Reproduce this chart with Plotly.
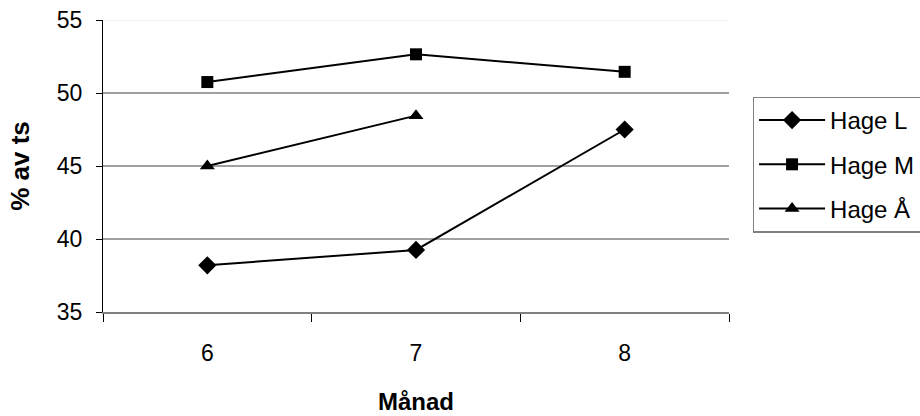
import plotly.graph_objects as go

# Months on the category axis and the three pasture series (% of dry matter)
months = ["6", "7", "8"]
hage_l = [38.2, 39.25, 47.5]
hage_m = [50.75, 52.65, 51.45]
hage_a = [45.0, 48.45, None]

y_ticks = [35, 40, 45, 50, 55]

font_family = "Liberation Sans, Arial, sans-serif"

fig = go.Figure()

series = [
    ("Hage L", hage_l, "diamond", 14),
    ("Hage M", hage_m, "square", 12),
    ("Hage Å", hage_a, "triangle-up", 13),
]
for name, values, symbol, size in series:
    fig.add_trace(go.Scatter(
        x=months, y=values, name=name, legendgroup=name,
        mode="lines+markers",
        line=dict(color="black", width=2),
        marker=dict(symbol=symbol, size=size, color="black"),
        connectgaps=False,
    ))

# Horizontal grid lines (the top one is faint, like a plot-area edge)
shapes = []
for v in y_ticks[1:]:
    shapes.append(dict(
        type="line", xref="paper", x0=0, x1=1, yref="y", y0=v, y1=v,
        line=dict(color="#f0f0f0" if v == y_ticks[-1] else "#808080", width=1.5),
        layer="below",
    ))

fig.update_layout(
    width=920, height=416,
    margin=dict(l=103, r=191, t=20, b=104),
    paper_bgcolor="white", plot_bgcolor="white",
    font=dict(family=font_family, size=23, color="black"),
    showlegend=True,
    legend=dict(
        xref="container", yref="container",
        x=0.818, xanchor="left", y=0.768, yanchor="top",
        bordercolor="#808080", borderwidth=1.5, bgcolor="white",
        font=dict(size=24), tracegroupgap=10, itemwidth=66,
    ),
    shapes=shapes,
    xaxis=dict(
        type="category", range=[-0.5, 2.5], tickson="boundaries",
        automargin=False,
        ticks="outside", ticklen=8, tickcolor="black", tickwidth=1,
        showline=True, linecolor="#808080", linewidth=2,
        showgrid=False, zeroline=False, ticklabelstandoff=19,
        tickfont=dict(size=23),
        title=dict(text="<b>Månad</b>", standoff=29, font=dict(size=24)),
    ),
    yaxis=dict(
        range=[35, 55], tickvals=y_ticks, automargin=False,
        ticks="outside", ticklen=6, tickcolor="black", tickwidth=1,
        showline=True, linecolor="black", linewidth=1,
        showgrid=False, zeroline=False, ticklabelstandoff=9,
        tickfont=dict(size=23),
        title=dict(text="<b>% av ts</b>", standoff=19, font=dict(size=26)),
    ),
)

fig.write_html("out.html")
